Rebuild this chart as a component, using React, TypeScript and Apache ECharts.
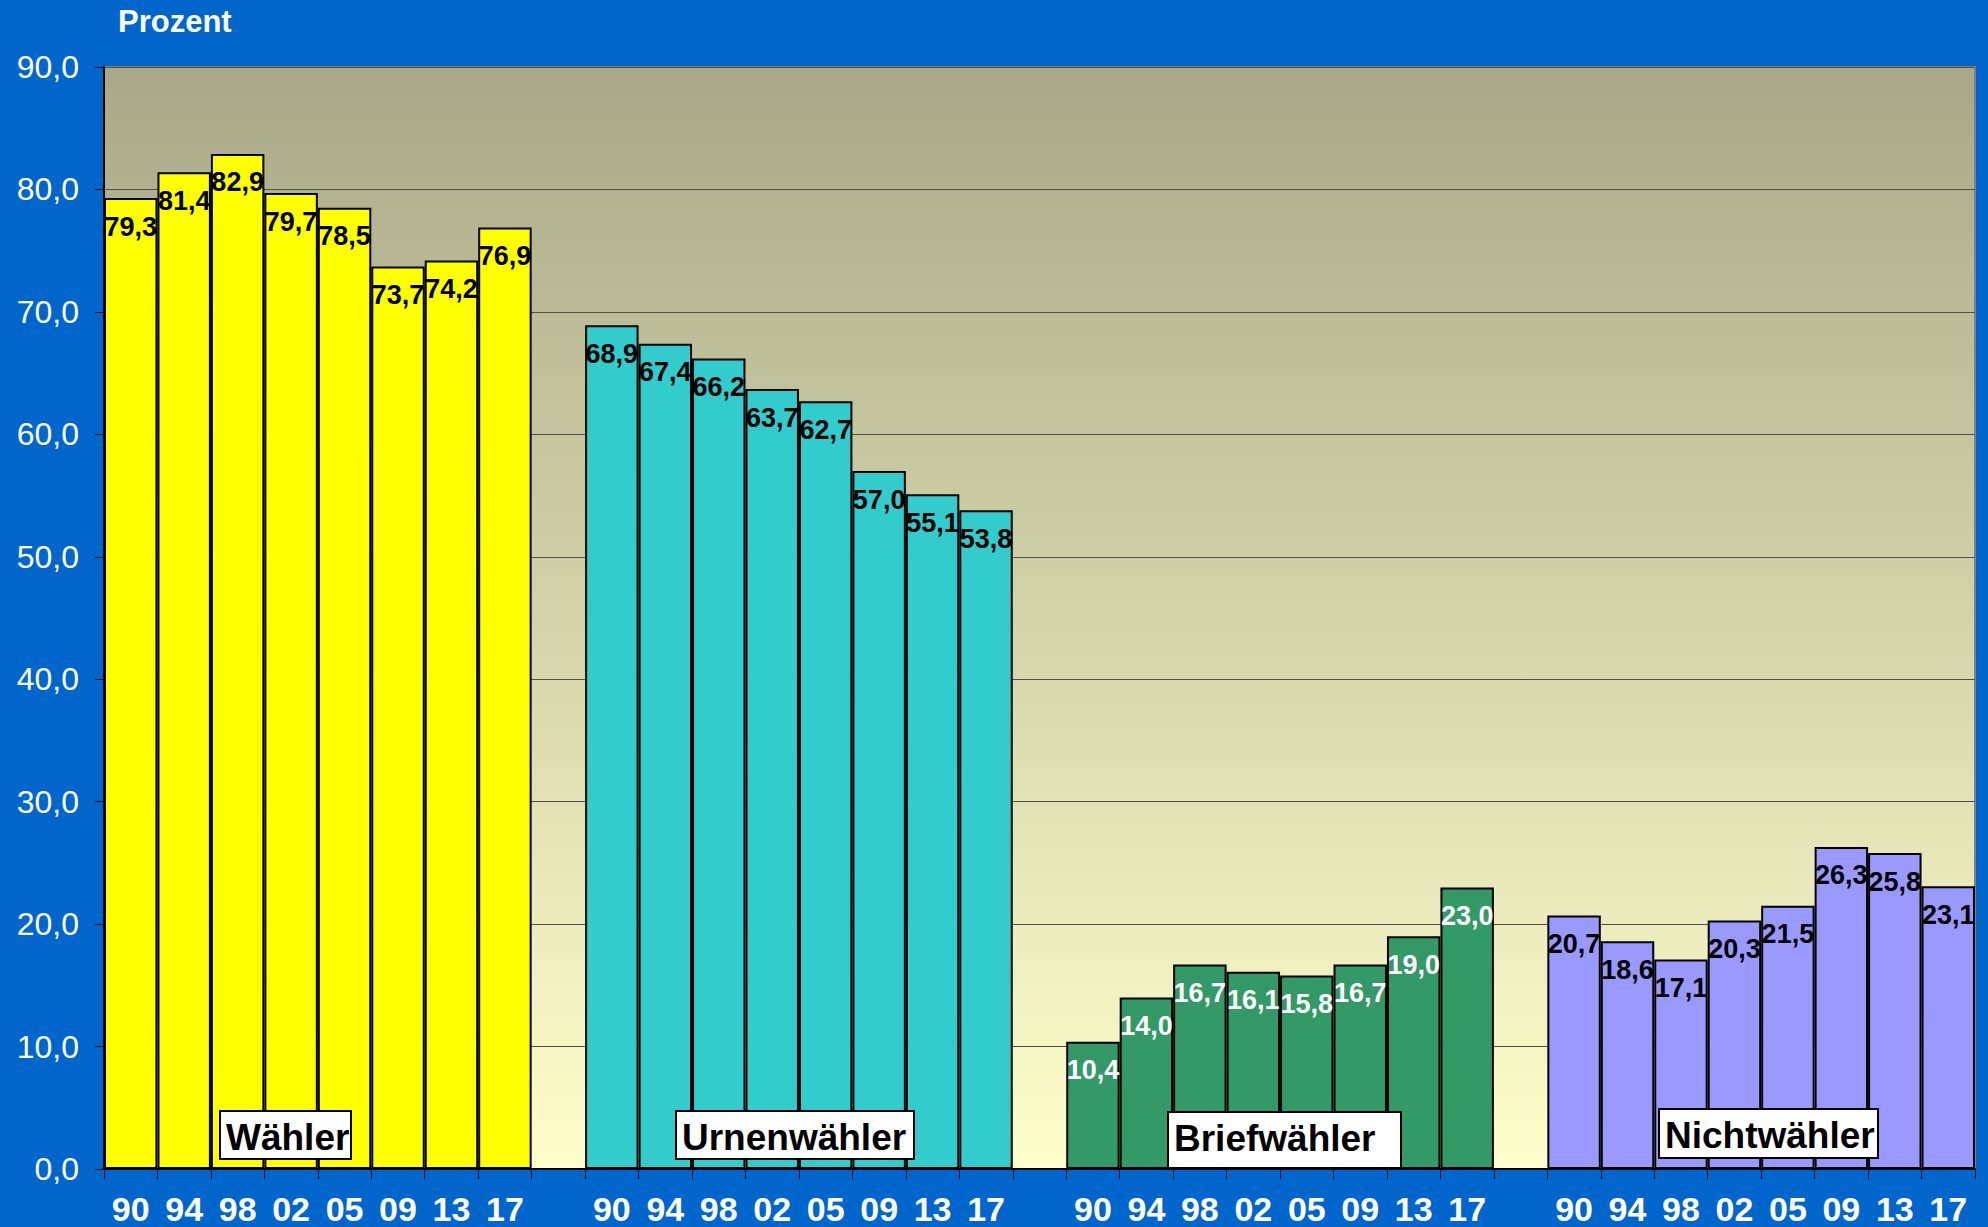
import React, { useEffect, useRef } from "react";
import * as echarts from "echarts";

const years = ["90", "94", "98", "02", "05", "09", "13", "17"];
const waehler = [79.3, 81.4, 82.9, 79.7, 78.5, 73.7, 74.2, 76.9];
const urnen = [68.9, 67.4, 66.2, 63.7, 62.7, 57.0, 55.1, 53.8];
const brief = [10.4, 14.0, 16.7, 16.1, 15.8, 16.7, 19.0, 23.0];
const nicht = [20.7, 18.6, 17.1, 20.3, 21.5, 26.3, 25.8, 23.1];
const groupNames = ["Wähler", "Urnenwähler", "Briefwähler", "Nichtwähler"];
const yTicks = { min: 0, max: 90, interval: 10 };

const groups = [waehler, urnen, brief, nicht];
const categories: string[] = [];
groups.forEach((_, gi) => {
  if (gi > 0) categories.push("");
  years.forEach((y) => categories.push(y));
});

function seriesData(gi: number): (number | string)[] {
  const out: (number | string)[] = [];
  groups.forEach((g, k) => {
    if (k > 0) out.push("-");
    g.forEach((v) => out.push(k === gi ? v : "-"));
  });
  return out;
}

const fmt = (v: number) => v.toFixed(1).replace(".", ",");
const FONT = "'Liberation Sans', Arial, sans-serif";

export default function App() {
  const ref = useRef<HTMLDivElement>(null);
  useEffect(() => {
    document.body.style.margin = "0";
    const chart = echarts.init(ref.current!, undefined, { renderer: "svg" });
    const colors = ["#FFFF00", "#33CCCC", "#339966", "#9999FF"];
    const labelColors = ["#000", "#000", "#fff", "#000"];
    const boxes = [
      { x: 220, y: 1111, w: 131, h: 48 },
      { x: 676, y: 1111, w: 238, h: 48 },
      { x: 1168, y: 1112, w: 233, h: 56 },
      { x: 1659, y: 1109, w: 219, h: 49 },
    ];
    const graphics: any[] = [
      {
        type: "text",
        left: 118,
        top: 6,
        style: { text: "Prozent", fill: "#fff", font: `bold 31px ${FONT}` },
      },
    ];
    boxes.forEach((b, i) => {
      graphics.push({
        type: "rect",
        shape: { x: b.x, y: b.y, width: b.w, height: b.h },
        style: { fill: "#fff", stroke: "#000", lineWidth: 2 },
        z: 100,
      });
      graphics.push({
        type: "text",
        x: b.x + 6,
        y: b.y + 26,
        style: {
          text: groupNames[i],
          fill: "#000",
          font: `bold 37px ${FONT}`,
          align: "left",
          verticalAlign: "middle",
        },
        z: 101,
      });
    });
    chart.setOption({
      animation: false,
      backgroundColor: "#0066CC",
      grid: {
        left: 104,
        top: 67,
        right: 13,
        bottom: 58,
        show: true,
        borderColor: "#808080",
        borderWidth: 2,
        backgroundColor: new echarts.graphic.LinearGradient(0, 0, 0, 1, [
          { offset: 0, color: "#A8A888" },
          { offset: 1, color: "#FFFFCC" },
        ]),
      },
      xAxis: {
        type: "category",
        data: categories,
        axisLine: { lineStyle: { color: "#000", width: 2 } },
        axisTick: { show: true, interval: 0, length: 10, lineStyle: { color: "#000", width: 1 } },
        axisLabel: {
          interval: 0,
          color: "#fff",
          fontWeight: "bold",
          fontSize: 34,
          fontFamily: FONT,
          margin: 23,
        },
      },
      yAxis: {
        type: "value",
        min: yTicks.min,
        max: yTicks.max,
        interval: yTicks.interval,
        axisLine: { show: true, lineStyle: { color: "#000", width: 2 } },
        axisTick: { show: true, length: 9, lineStyle: { color: "#000" } },
        splitLine: { lineStyle: { color: "#505048", width: 1 } },
        axisLabel: {
          color: "#fff",
          fontSize: 32,
          fontFamily: FONT,
          margin: 25,
          formatter: (v: number) => fmt(v),
        },
      },
      graphic: graphics,
      series: groups.map((_, gi) => ({
        type: "bar",
        stack: "all",
        barCategoryGap: "0%",
        data: seriesData(gi),
        itemStyle: { color: colors[gi], borderColor: "#000", borderWidth: 2 },
        label: {
          show: true,
          position: "insideTop",
          distance: 15,
          color: labelColors[gi],
          fontWeight: "bold",
          fontSize: 27,
          fontFamily: FONT,
          formatter: (p: any) => fmt(p.value),
        },
      })),
    });
    return () => chart.dispose();
  }, []);
  return <div ref={ref} style={{ width: 1988, height: 1227 }} />;
}
